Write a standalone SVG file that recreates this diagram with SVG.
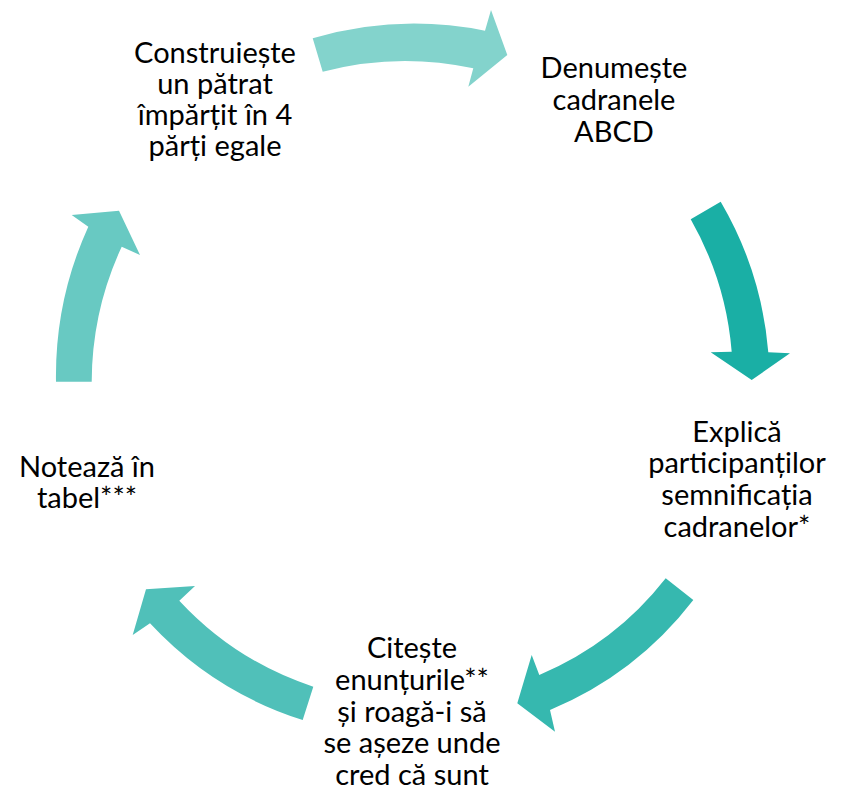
<svg xmlns="http://www.w3.org/2000/svg" width="842" height="810" viewBox="0 0 842 810">
  <style>
    .lbl { font-family: Lato, "Open Sans", "Liberation Sans", sans-serif; font-size: 29px; font-weight: 400; fill: #000000; text-anchor: middle; }
  </style>
  <rect width="842" height="810" fill="#ffffff"/>

  <!-- curved arrows of the cycle -->
  <g id="connectors">
    <path id="arrow-1-2" fill="#83D3CC" d="M 312.7,38.3 A 361 361 0 0 1 485,30.7 L 491,10 L 507.3,55 L 468.3,86.7 L 473.3,68.3 A 325 325 0 0 0 322.7,71.7 Z"/>
    <path id="arrow-2-3" fill="#1AAFA5" d="M 720.7,201.7 A 356 356 0 0 1 768.3,352.3 L 790,353.3 L 751.7,380 L 710.7,352.3 L 731.7,351.7 A 320 320 0 0 0 690.7,219.3 Z"/>
    <path id="arrow-3-4" fill="#36B8AF" d="M 693.3,600 A 352 352 0 0 1 550,710 L 555,731.7 L 517.3,703.3 L 531.7,655 L 539.3,675 A 316 316 0 0 0 665.7,578.3 Z"/>
    <path id="arrow-4-5" fill="#50C0B9" d="M 302.7,720 A 355 355 0 0 1 150,623.3 L 132.7,635 L 146,589.3 L 195,586 L 179.3,600.7 A 319 319 0 0 0 313.3,686.7 Z"/>
    <path id="arrow-5-1" fill="#68C9C2" d="M 56,381.7 A 360 360 0 0 1 88.3,226.7 L 71.7,215 L 119,210.7 L 140,255 L 121.7,246.7 A 323 323 0 0 0 91.7,381.7 Z"/>
  </g>

  <g id="node-1">
    <text class="lbl"><tspan x="215" y="63">Construiește</tspan><tspan x="215" y="94">un pătrat</tspan><tspan x="215" y="125">împărțit în 4</tspan><tspan x="215" y="156">părți egale</tspan></text>
  </g>

  <g id="node-2">
    <text class="lbl"><tspan x="614" y="78">Denumește</tspan><tspan x="614" y="110">cadranele</tspan><tspan x="614" y="142">ABCD</tspan></text>
  </g>

  <g id="node-3">
    <text class="lbl"><tspan x="737" y="442">Explică</tspan><tspan x="737" y="473">participanților</tspan><tspan x="737" y="505">semnificația</tspan><tspan x="737" y="537">cadranelor*</tspan></text>
  </g>

  <g id="node-4">
    <text class="lbl"><tspan x="412" y="658">Citește</tspan><tspan x="412" y="690">enunțurile**</tspan><tspan x="412" y="722">și roagă-i să</tspan><tspan x="412" y="753">se așeze unde</tspan><tspan x="412" y="785">cred că sunt</tspan></text>
  </g>

  <g id="node-5">
    <text class="lbl"><tspan x="87" y="477">Notează în</tspan><tspan x="87" y="508">tabel***</tspan></text>
  </g>
</svg>
